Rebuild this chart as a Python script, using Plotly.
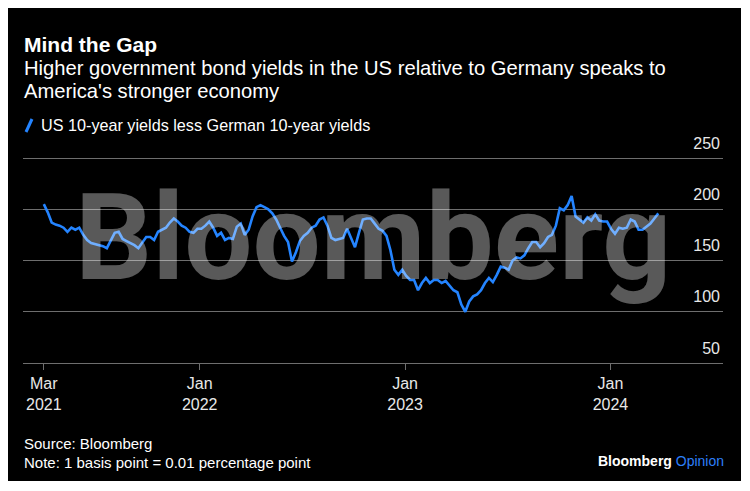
import pandas as pd
import plotly.graph_objects as go

# Weekly readings of the spread (basis points), from late March 2021 to late March 2024
start_date = "2021-03-30"
spread_bp = [
    205, 197, 187, 185, 184, 182, 178, 182, 180, 182,
    175, 170, 167, 166, 165, 164, 162, 169, 177, 178,
    171, 169, 167, 165, 162, 168, 173, 173, 170, 178,
    180, 182, 187, 191, 188, 184, 182, 178, 177, 181,
    181, 184, 188, 182, 174, 177, 170, 172, 171, 183,
    186, 175, 180, 193, 202, 204, 202, 200, 196, 190,
    182, 174, 168, 149, 158, 169, 174, 177, 182, 184,
    190, 192, 184, 172, 170, 171, 172, 181, 172, 163,
    177, 190, 191, 191, 186, 181, 179, 174, 160, 141,
    136, 141, 135, 131, 131, 121, 128, 133, 128, 131,
    131, 128, 130, 126, 121, 119, 107, 100, 110, 115,
    117, 121, 128, 133, 129, 136, 144, 143, 141, 150,
    153, 152, 155, 162, 168, 168, 163, 167, 173, 175,
    184, 201, 199, 204, 213, 193, 190, 187, 192, 189,
    195, 189, 188, 188, 181, 176, 182, 181, 182, 190,
    188, 180, 180, 183, 186, 191, 196,
]
dates = pd.date_range(start_date, periods=len(spread_bp), freq="7D")

x_tick_vals = ["2021-03-30", "2022-01-01", "2023-01-01", "2024-01-01"]
x_tick_text = ["Mar<br>2021", "Jan<br>2022", "Jan<br>2023", "Jan<br>2024"]
y_tick_vals = [50, 100, 150, 200, 250]

title = "Mind the Gap"
subtitle_1 = "Higher government bond yields in the US relative to Germany speaks to"
subtitle_2 = "America's stronger economy"
series_name = "US 10-year yields less German 10-year yields"
source_text = "Source: Bloomberg"
note_text = "Note: 1 basis point = 0.01 percentage point"

BLUE = "#2484ff"
GRID = "#6e6e6e"
FONT = "Liberation Sans, Arial, sans-serif"

# figure (placed by the page at an 8px offset) and plot area, in pixels
OFF = 8
W, H = 733, 473
L, R, T, B = 15, 18, 116, 118
PW, PH = W - L - R, H - T - B
Y_BOTTOM = 50
Y_TOP = Y_BOTTOM + PH / 1.025  # 1.025 px per basis point


def px(x):  # page x -> paper fraction
    return (x - OFF - L) / PW


def py(y):  # page y -> paper fraction
    return (H - B + OFF - y) / PH


fig = go.Figure()
fig.add_trace(go.Scatter(
    x=dates, y=spread_bp, mode="lines", name=series_name,
    line=dict(color=BLUE, width=2.6), showlegend=False,
))

fig.update_layout(
    width=W, height=H,
    margin=dict(l=L, r=R, t=T, b=B, autoexpand=False),
    paper_bgcolor="black", plot_bgcolor="black",
    font=dict(family=FONT, color="white"),
    xaxis=dict(
        type="date", range=["2021-02-21", "2024-07-19"],
        tickmode="array", tickvals=x_tick_vals, ticktext=x_tick_text,
        ticks="outside", ticklen=6, tickcolor=GRID, tickwidth=1,
        showline=True, linecolor=GRID, linewidth=1,
        showgrid=False, zeroline=False,
        tickfont=dict(size=16, color="#e8e8e8", family=FONT),
    ),
    yaxis=dict(
        side="right", range=[Y_BOTTOM, Y_TOP], tickmode="array", tickvals=y_tick_vals,
        ticklabelposition="inside", ticklabelshift=-15,
        showgrid=True, gridcolor=GRID, gridwidth=1,
        zeroline=False, showline=False, ticks="",
        tickfont=dict(size=16, color="#e8e8e8", family=FONT),
    ),
    shapes=[
        dict(type="line", xref="paper", yref="paper",
             x0=px(26), x1=px(32), y0=py(132), y1=py(119),
             line=dict(color=BLUE, width=3)),
    ],
    annotations=[
        dict(text="Bloomberg", xref="paper", yref="paper", x=px(373), y=py(238),
             xanchor="center", yanchor="middle", showarrow=False,
             font=dict(family="Roboto", size=121, weight=700,
                       color="rgba(255,255,255,0.35)")),
        dict(text="<b>" + title + "</b>", xref="paper", yref="paper", x=px(22), y=py(44),
             xanchor="left", yanchor="middle", showarrow=False,
             font=dict(size=21, color="white")),
        dict(text=subtitle_1, xref="paper", yref="paper", x=px(22), y=py(68),
             xanchor="left", yanchor="middle", showarrow=False,
             font=dict(size=20.2, color="white")),
        dict(text=subtitle_2, xref="paper", yref="paper", x=px(22), y=py(91),
             xanchor="left", yanchor="middle", showarrow=False,
             font=dict(size=20.2, color="white")),
        dict(text=series_name, xref="paper", yref="paper", x=px(39), y=py(125),
             xanchor="left", yanchor="middle", showarrow=False,
             font=dict(size=16.2, color="white")),
        dict(text=source_text, xref="paper", yref="paper", x=px(22), y=py(443),
             xanchor="left", yanchor="middle", showarrow=False,
             font=dict(size=15, color="white")),
        dict(text=note_text, xref="paper", yref="paper", x=px(22), y=py(462),
             xanchor="left", yanchor="middle", showarrow=False,
             font=dict(size=15, color="white")),
        dict(text="<b>Bloomberg</b> <span style='color:#2d7ff9'>Opinion</span>",
             xref="paper", yref="paper", x=px(726), y=py(461),
             xanchor="right", yanchor="middle", showarrow=False,
             font=dict(size=14, color="white")),
    ],
)

fig.write_html("out.html")
